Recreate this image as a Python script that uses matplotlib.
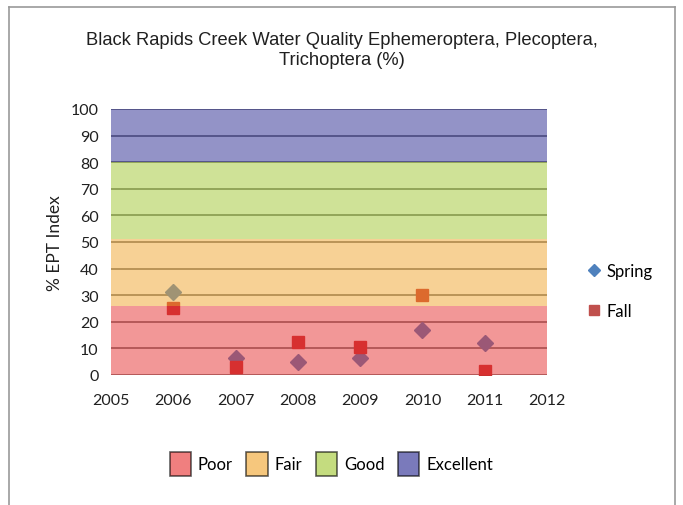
import matplotlib.pyplot as plt
from matplotlib.patches import Patch
from matplotlib.lines import Line2D

# EPT index by sampling year
years = [2006, 2007, 2008, 2009, 2010, 2011]
spring = [31, 6.5, 5, 6.3, 17, 12]
fall = [25, 3, 12.3, 10.5, 30, 1.6]

# water-quality bands (lower, upper)
band_names = ["Poor", "Fair", "Good", "Excellent"]
band_low = [0, 26, 51, 80]
band_high = [26, 51, 80, 100]
band_colors = ["#e73131", "#f1a52d", "#a1c731", "#292991"]

fig = plt.figure(figsize=(6.83, 5.06), dpi=100)
ax = fig.add_axes([0.1625, 0.257, 0.6385, 0.5257])

ax.set_xlim(2005, 2012)
ax.set_ylim(0, 100)
ax.set_xticks(range(2005, 2013))
ax.set_yticks(range(0, 101, 10))

# grid and points sit under the translucent bands
for y in range(0, 101, 10):
    ax.axhline(y, color="#787878", lw=1.3, zorder=1)
ax.plot(years, spring, "D", color="#4f81bd", ms=8, zorder=2)
ax.plot(years, fall, "s", color="#c8302f", ms=8.5, zorder=2.5)
for lo, hi, c in zip(band_low, band_high, band_colors):
    ax.fill_between([2005, 2012], lo, hi, color=c, alpha=0.5, lw=0, zorder=3)

for s in ax.spines.values():
    s.set_visible(False)
ax.tick_params(length=0, labelsize=11.5)
ax.tick_params(axis="x", pad=13)
ax.tick_params(axis="y", pad=9)
for lab in ax.get_xticklabels() + ax.get_yticklabels():
    lab.set_family("Lato")
    lab.set_color("#202020")

ax.set_ylabel("% EPT Index", family="Lato", fontsize=12.5, color="#202020")
ax.yaxis.set_label_coords(-0.11, 0.5)

fig.text(0.5, 0.9, "Black Rapids Creek Water Quality Ephemeroptera, Plecoptera,\nTrichoptera (%)",
         ha="center", va="center", fontsize=13.2, linespacing=1.2,
         family="Liberation Sans", color="#202020")

# series legend on the right
ser = [Line2D([], [], marker="D", ls="", color="#4f81bd", ms=6),
       Line2D([], [], marker="s", ls="", color="#c0504d", ms=7)]
fig.legend(ser, ["Spring", "Fall"], loc="center left", bbox_to_anchor=(0.838, 0.423),
           frameon=False, prop={"family": "Lato", "size": 12}, labelspacing=1.45,
           handlelength=0.8, handletextpad=0.35)

# band legend underneath
bands = [Patch(facecolor=c, alpha=0.62, edgecolor="black", lw=1.2) for c in band_colors]
fig.legend(bands, band_names, loc="center", bbox_to_anchor=(0.485, 0.081), ncol=4,
           frameon=False, prop={"family": "Lato", "size": 12}, handlelength=1.3,
           handleheight=1.85, handletextpad=0.4, columnspacing=0.8)

# outer frame (open at the bottom)
for xs, ys in [([0.013, 0.013], [0, 0.985]), ([0.013, 0.988], [0.985, 0.985]), ([0.988, 0.988], [0, 0.985])]:
    fig.add_artist(Line2D(xs, ys, color="#9a9a9a", lw=1.2, transform=fig.transFigure))

fig.savefig("out.png", dpi=100)
